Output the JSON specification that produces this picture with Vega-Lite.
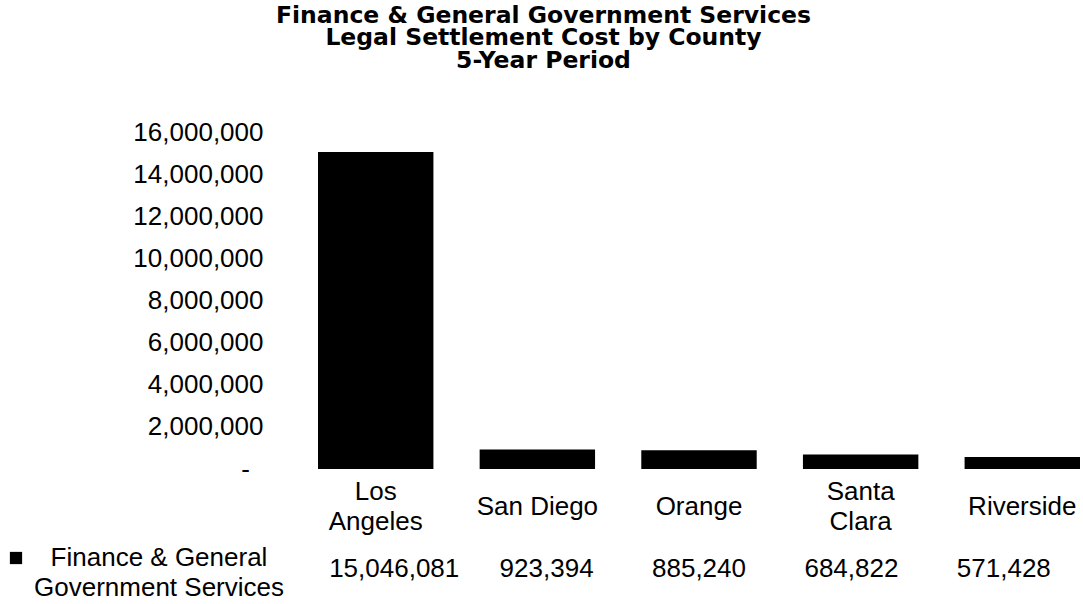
{
  "$schema": "https://vega.github.io/schema/vega-lite/v6.json",
  "background": "white",
  "padding": {"left": 7, "top": 3, "right": 0, "bottom": 0},
  "title": {
    "text": ["Finance & General Government Services", "Legal Settlement Cost by County", "5-Year Period"],
    "fontSize": 23.5,
    "font": "DejaVu Sans",
    "fontWeight": "bold",
    "lineHeight": 22.5,
    "anchor": "middle",
    "frame": "bounds",
    "color": "black",
    "offset": 47
  },
  "data": {
    "values": [
      {"county": "Los Angeles", "cost": 15046081, "series": "Finance & General Government Services"},
      {"county": "San Diego", "cost": 923394, "series": "Finance & General Government Services"},
      {"county": "Orange", "cost": 885240, "series": "Finance & General Government Services"},
      {"county": "Santa Clara", "cost": 684822, "series": "Finance & General Government Services"},
      {"county": "Riverside", "cost": 571428, "series": "Finance & General Government Services"}
    ]
  },
  "bounds": "flush",
  "spacing": 80,
  "resolve": {"scale": {"color": "independent"}, "legend": {"color": "independent"}},
  "vconcat": [
    {
      "width": 762,
      "height": 337,
      "mark": {"type": "bar", "color": "black"},
      "encoding": {
        "x": {
          "field": "county", "type": "nominal", "sort": null,
          "scale": {"paddingInner": 0.286, "paddingOuter": 0},
          "axis": {
            "title": null, "domain": false, "ticks": false, "tickSize": 0, "labelAngle": 0,
            "labelFontSize": 26, "labelFont": "Liberation Sans", "labelColor": "black",
            "labelPadding": {"condition": {"test": "datum.value == 'Los Angeles' || datum.value == 'Santa Clara'", "value": 22}, "value": 37},
            "labelBaseline": "middle", "labelLineHeight": 30, "labelOverlap": false,
            "labelExpr": "datum.label == 'San Diego' ? datum.label : split(datum.label, ' ')"
          }
        },
        "y": {
          "field": "cost", "type": "quantitative",
          "scale": {"domain": [0, 16000000], "nice": false},
          "axis": {
            "title": null, "domain": false, "ticks": false, "tickSize": 0, "grid": false,
            "values": [0, 2000000, 4000000, 6000000, 8000000, 10000000, 12000000, 14000000, 16000000],
            "labelFontSize": 26, "labelFont": "Liberation Sans", "labelColor": "black",
            "labelPadding": {"condition": {"test": "datum.value == 0", "value": 68.5}, "value": 55},
            "labelExpr": "datum.value == 0 ? '-' : format(datum.value, ',')"
          }
        }
      }
    },
    {
      "width": 762,
      "height": 40,
      "mark": {"type": "text", "fontSize": 26, "font": "Liberation Sans"},
      "encoding": {
        "x": {
          "field": "county", "type": "nominal", "sort": null,
          "scale": {"paddingInner": 0.286, "paddingOuter": 0},
          "axis": null
        },
        "y": {
          "field": "series", "type": "nominal",
          "axis": {
            "title": null, "domain": false, "ticks": false, "tickSize": 0,
            "labelFontSize": 26, "labelFont": "Liberation Sans", "labelColor": "black",
            "labelAlign": "center", "labelPadding": 159.5, "labelLineHeight": 30, "labelLimit": 600,
            "labelOffset": -11.5,
            "labelExpr": "['Finance & General', 'Government Services']"
          }
        },
        "color": {
          "field": "series", "type": "nominal",
          "scale": {"range": ["black"]},
          "legend": {
            "orient": "left", "title": null, "symbolType": "square", "symbolSize": 150,
            "symbolFillColor": "black", "symbolStrokeWidth": 0, "symbolOpacity": 1,
            "labelExpr": "''", "labelOffset": 0, "labelFontSize": 18,
            "padding": 0, "offset": 8, "rowPadding": 0
          }
        },
        "text": {"field": "cost", "type": "quantitative", "format": ","}
      }
    }
  ],
  "config": {
    "view": {"stroke": null},
    "font": "Liberation Sans"
  }
}
